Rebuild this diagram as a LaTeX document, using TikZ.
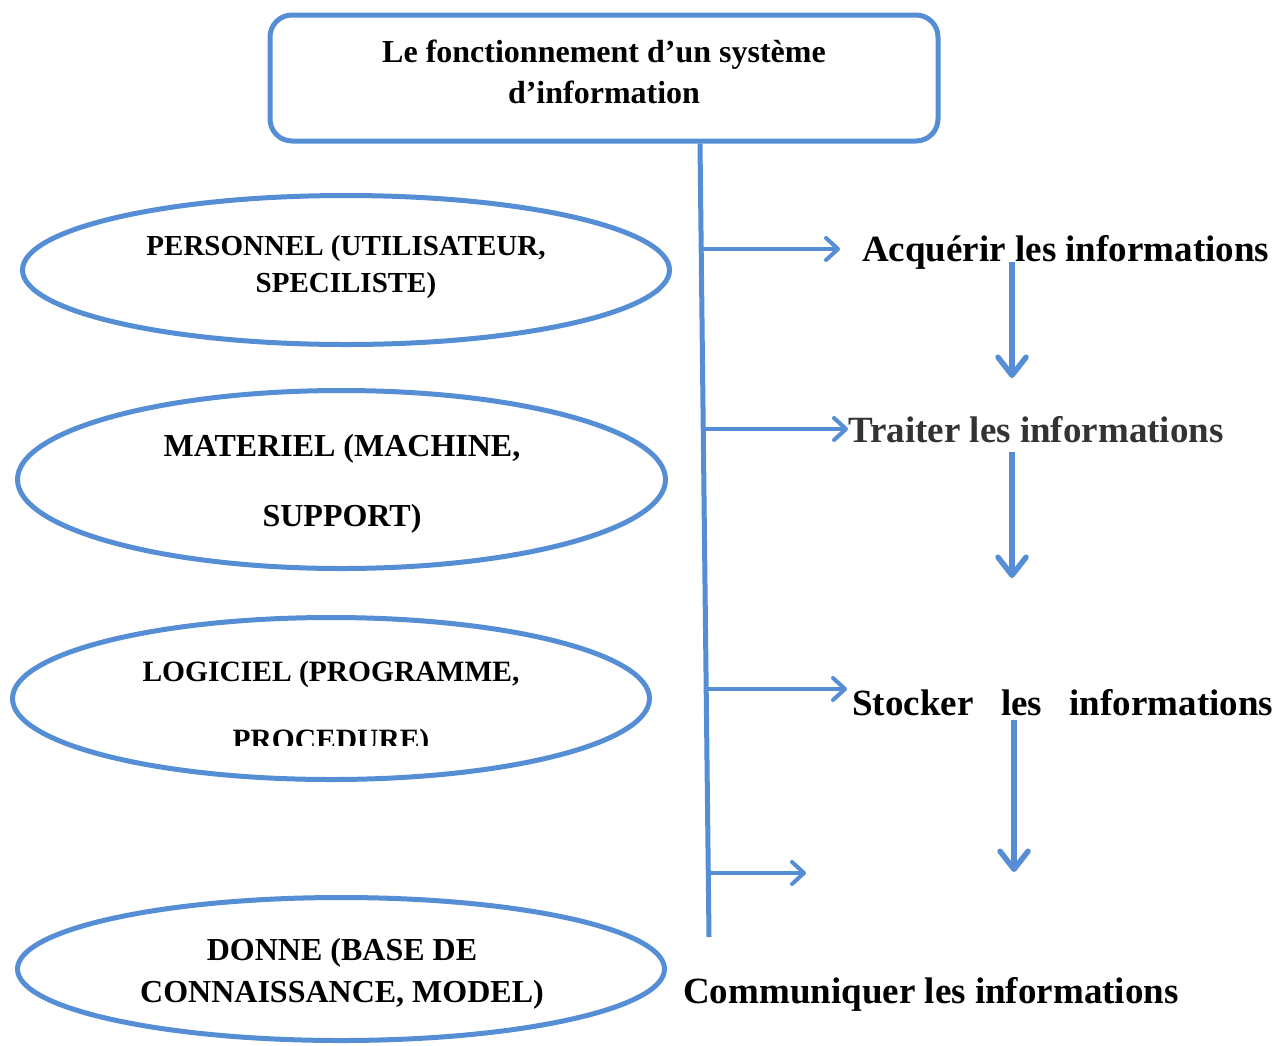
\documentclass[tikz,border=0pt]{standalone}
\usepackage{fontspec}
\setmainfont{Liberation Serif}
\usetikzlibrary{shapes.geometric,arrows.meta}
\definecolor{sblue}{RGB}{85,142,213}
\definecolor{tgrey}{RGB}{51,51,51}
\begin{document}
\begin{tikzpicture}[x=1pt,y=-1pt,
  ell/.style={draw=sblue,line width=5pt,ellipse,inner sep=0pt},
  lbl/.style={align=center,inner sep=0pt},
  big/.style={font=\fontsize{37}{44}\selectfont\bfseries,inner sep=0pt,anchor=base west},
  conn/.style={draw=sblue,line width=5pt},
  harr/.style={draw=sblue,line width=4pt,-{Straight Barb[length=12pt,width=22pt,round]}},
  varr/.style={draw=sblue,line width=5.5pt,-{Straight Barb[length=18pt,width=28pt,round]}},
]
\useasboundingbox (0,0) rectangle (1287,1045);
\clip (0,0) rectangle (1287,1045);

% top box
\node[draw=sblue,line width=5pt,rounded corners=22pt,minimum width=668pt,minimum height=126pt,inner sep=0pt] (box) at (604,78) {};
\node[lbl,font=\fontsize{32}{41}\selectfont\bfseries] (title) at (604,71.5) {Le fonctionnement d’un système\\d’information};

% ellipses
\node[ell,minimum width=647pt,minimum height=149pt] (e1) at (346,270) {};
\node[ell,minimum width=648pt,minimum height=178pt] (e2) at (341.5,479.5) {};
\node[ell,minimum width=637pt,minimum height=162pt] (e3) at (331,698.5) {};
\node[ell,minimum width=647pt,minimum height=143pt] (e4) at (341,969) {};

\node[lbl,font=\fontsize{29}{37}\selectfont\bfseries] (t1) at (346,267) {PERSONNEL (UTILISATEUR,\\SPECILISTE)};
\node[lbl,font=\fontsize{32}{70}\selectfont\bfseries] (t2) at (342,484) {MATERIEL (MACHINE,\\SUPPORT)};
\begin{scope}
\clip (0,600) rectangle (1287,745);
\node[lbl,font=\fontsize{29.5}{68}\selectfont\bfseries] (t3) at (331,708.5) {LOGICIEL (PROGRAMME,\\PROCEDURE)};
\end{scope}
\node[lbl,font=\fontsize{32}{42}\selectfont\bfseries] (t4) at (342,974) {DONNE (BASE DE\\CONNAISSANCE, MODEL)};

% right texts
\node[big] (acq) at (862,261) {Acquérir les informations};
\node[big,text=tgrey] (trait) at (848,442) {Traiter les informations};
\node[big] (stock) at (852,715) {\makebox[421pt][s]{Stocker les informations}};
\node[big] (comm) at (683,1003) {Communiquer les informations};

% main vertical line
\coordinate (vtop) at (700,0);
\coordinate (vend) at (709,937);
\draw[conn] (vtop |- box.south) -- (vend);

% horizontal arrows
\coordinate (h1s) at (701.2,249); \coordinate (h1e) at (840,249);
\coordinate (h2s) at (703.2,429); \coordinate (h2e) at (848,429);
\coordinate (h3s) at (706.2,689); \coordinate (h3e) at (847,689);
\coordinate (h4s) at (708.3,873); \coordinate (h4e) at (806,873);
\draw[harr] (h1s) -- (h1e);
\draw[harr] (h2s) -- (h2e);
\draw[harr] (h3s) -- (h3e);
\draw[harr] (h4s) -- (h4e);

% vertical arrows
\coordinate (v1s) at (1012,262); \coordinate (v1e) at (1012,378);
\coordinate (v2s) at (1012,452); \coordinate (v2e) at (1012,578);
\coordinate (v3s) at (1014,720); \coordinate (v3e) at (1014,872);
\draw[varr] (v1s) -- (v1e);
\draw[varr] (v2s) -- (v2e);
\draw[varr] (v3s) -- (v3e);
\end{tikzpicture}
\end{document}
